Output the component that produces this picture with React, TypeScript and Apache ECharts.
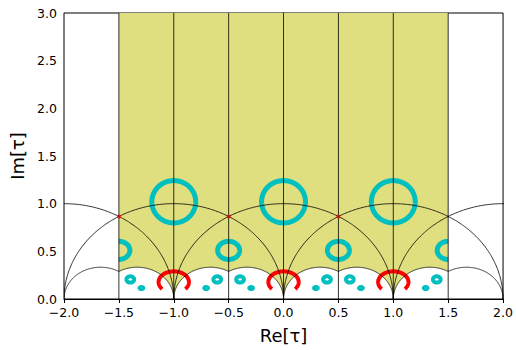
import React, { useEffect, useRef } from 'react';
import * as echarts from 'echarts';

// Axis extents and ticks
const xRange = [-2, 2];
const yRange = [0, 3];
const tickStep = 0.5;

// Geodesic arcs: [center, radius, startAngle, endAngle] (degrees, upper half)
const unitArcs = [
  [-2, 1, 0, 180],
  [-1, 1, 0, 180],
  [0, 1, 0, 180],
  [1, 1, 0, 180],
  [2, 1, 0, 180],
];
const thirdArcs = [
  [-5 / 3, 1 / 3, 60, 180],
  [-4 / 3, 1 / 3, 0, 120],
  [-2 / 3, 1 / 3, 60, 180],
  [-1 / 3, 1 / 3, 0, 120],
  [1 / 3, 1 / 3, 60, 180],
  [2 / 3, 1 / 3, 0, 120],
  [4 / 3, 1 / 3, 60, 180],
  [5 / 3, 1 / 3, 0, 120],
];

// Vertical boundary lines
const verticalLines = [-1.5, -1, -0.5, 0, 0.5, 1, 1.5];

// Shaded region: x span and top
const regionX = [-1.5, 1.5];
const regionTop = 3;

// Cyan curves: [cx, cy, rx, ry, startAngle, endAngle]
const bigRings = [
  [-1, 1.02, 0.2, 0.222, 0, 360],
  [0, 1.02, 0.2, 0.222, 0, 360],
  [1, 1.02, 0.2, 0.222, 0, 360],
];
const midRings = [
  [-1.5, 0.51, 0.1, 0.095, -90, 90],
  [-0.5, 0.51, 0.1, 0.095, 0, 360],
  [0.5, 0.51, 0.1, 0.095, 0, 360],
  [1.5, 0.51, 0.1, 0.095, 90, 270],
];
const smallRings = [
  [-1.396, 0.205, 0.035, 0.033, 0, 360],
  [-0.604, 0.205, 0.035, 0.033, 0, 360],
  [-0.396, 0.205, 0.035, 0.033, 0, 360],
  [0.396, 0.205, 0.035, 0.033, 0, 360],
  [0.604, 0.205, 0.035, 0.033, 0, 360],
  [1.396, 0.205, 0.035, 0.033, 0, 360],
];
const blobs = [
  [-1.295, 0.115, 0.019, 0.013, 0, 360],
  [-0.705, 0.115, 0.019, 0.013, 0, 360],
  [-0.295, 0.115, 0.019, 0.013, 0, 360],
  [0.295, 0.115, 0.019, 0.013, 0, 360],
  [0.705, 0.115, 0.019, 0.013, 0, 360],
  [1.295, 0.115, 0.019, 0.013, 0, 360],
];
// Red arcs
const redArcs = [
  [-1, 0.178, 0.138, 0.112, -40, 220],
  [0, 0.178, 0.138, 0.112, -40, 220],
  [1, 0.178, 0.138, 0.112, -40, 220],
];
// Red points
const redDots = [
  [-1.5, 0.866],
  [-0.5, 0.866],
  [0.5, 0.866],
];

const FONT = 'DejaVu Sans';
const YELLOW = '#dfdf80';
const CYAN = '#00bfbf';
const RED = '#ff0000';

const fmt = (v: number) => v.toFixed(1).replace('-', '\u2212');

function ellipseSeries(rows: number[][], width: number, color: string, z: number) {
  return {
    type: 'custom',
    z,
    clip: true,
    silent: true,
    data: rows.map((r) => [r[0], r[1]]),
    renderItem: (params: any, api: any) => {
      const [cx, cy, rx, ry, a0, a1] = rows[params.dataIndex];
      const n = 180;
      const pts: number[][] = [];
      const full = a1 - a0 >= 360;
      const count = full ? n : n + 1;
      for (let i = 0; i < count; i++) {
        const t = ((a0 + ((a1 - a0) * i) / n) * Math.PI) / 180;
        pts.push(api.coord([cx + rx * Math.cos(t), cy + ry * Math.sin(t)]));
      }
      return {
        type: full ? 'polygon' : 'polyline',
        shape: { points: pts },
        style: { fill: 'none', stroke: color, lineWidth: width, lineCap: 'butt', lineJoin: 'round' },
      };
    },
  };
}

export default function App() {
  const ref = useRef<HTMLDivElement>(null);
  useEffect(() => {
    if (!ref.current) return;
    const chart = echarts.init(ref.current, undefined, { renderer: 'svg' });

    const allArcs: number[][] = [...unitArcs, ...thirdArcs];

    const lowerBoundary = (x: number) => {
      let y = 0;
      for (const a of thirdArcs) {
        const c = a[0];
        const r = a[1];
        const d = r * r - (x - c) * (x - c);
        if (d > 0) y = Math.max(y, Math.sqrt(d));
      }
      return y;
    };

    const option: any = {
      animation: false,
      grid: {
        left: 64,
        right: 9,
        top: 13,
        bottom: 51,
        show: true,
        borderColor: '#000',
        borderWidth: 1,
        backgroundColor: 'transparent',
      },
      xAxis: {
        type: 'value',
        min: xRange[0],
        max: xRange[1],
        interval: tickStep,
        name: 'Re[τ]',
        nameLocation: 'middle',
        nameGap: 27,
        nameTextStyle: { fontFamily: FONT, fontSize: 18, color: '#000' },
        axisLine: { show: true, lineStyle: { color: '#000', width: 1 } },
        axisTick: { show: true, inside: false, length: 4, lineStyle: { color: '#000', width: 1 } },
        axisLabel: { fontFamily: FONT, fontSize: 12.5, color: '#000', margin: 7, formatter: fmt },
        splitLine: { show: false },
      },
      yAxis: {
        type: 'value',
        min: yRange[0],
        max: yRange[1],
        interval: tickStep,
        name: 'Im[τ]',
        nameLocation: 'middle',
        nameGap: 37,
        nameRotate: 90,
        nameTextStyle: { fontFamily: FONT, fontSize: 18, color: '#000' },
        axisLine: { show: true, lineStyle: { color: '#000', width: 1 } },
        axisTick: { show: true, inside: false, length: 4, lineStyle: { color: '#000', width: 1 } },
        axisLabel: { fontFamily: FONT, fontSize: 12.5, color: '#000', margin: 7, formatter: fmt },
        splitLine: { show: false },
      },
      series: [
        {
          type: 'custom',
          z: 1,
          silent: true,
          data: [[0, regionTop]],
          renderItem: (params: any, api: any) => {
            const pts: number[][] = [];
            const step = 0.002;
            const n = Math.round((regionX[1] - regionX[0]) / step);
            for (let i = 0; i <= n; i++) {
              const x = regionX[0] + i * step;
              pts.push(api.coord([x, lowerBoundary(x)]));
            }
            pts.push(api.coord([regionX[1], regionTop]));
            pts.push(api.coord([regionX[0], regionTop]));
            return { type: 'polygon', shape: { points: pts }, style: { fill: YELLOW, stroke: 'none' } };
          },
        },
        ellipseSeries(bigRings, 5, CYAN, 2),
        ellipseSeries(midRings, 5, CYAN, 2),
        ellipseSeries(smallRings, 4, CYAN, 2),
        ellipseSeries(blobs, 3.5, CYAN, 2),
        ellipseSeries(redArcs, 4, RED, 2),
        {
          type: 'custom',
          z: 3,
          clip: true,
          silent: true,
          data: allArcs.map((a) => [a[0], 0]),
          renderItem: (params: any, api: any) => {
            const [c, r, a0, a1] = allArcs[params.dataIndex];
            const pts: number[][] = [];
            const n = 240;
            for (let i = 0; i <= n; i++) {
              const t = ((a0 + ((a1 - a0) * i) / n) * Math.PI) / 180;
              pts.push(api.coord([c + r * Math.cos(t), r * Math.sin(t)]));
            }
            return {
              type: 'polyline',
              shape: { points: pts },
              style: { fill: 'none', stroke: '#000', lineWidth: 0.8 },
            };
          },
        },
        {
          type: 'custom',
          z: 3,
          clip: true,
          silent: true,
          data: verticalLines.map((x) => [x, 0]),
          renderItem: (params: any, api: any) => {
            const x = verticalLines[params.dataIndex];
            const p0 = api.coord([x, yRange[0]]);
            const p1 = api.coord([x, yRange[1]]);
            return {
              type: 'line',
              shape: { x1: p0[0], y1: p0[1], x2: p1[0], y2: p1[1] },
              style: { stroke: '#000', lineWidth: 0.8 },
            };
          },
        },
        {
          type: 'scatter',
          z: 4,
          silent: true,
          symbol: 'circle',
          symbolSize: 4,
          itemStyle: { color: RED },
          data: redDots,
        },
      ],
    };
    chart.setOption(option);
    return () => chart.dispose();
  }, []);
  return <div ref={ref} style={{ width: 516, height: 350, position: 'absolute', left: 0, top: 0 }} />;
}
